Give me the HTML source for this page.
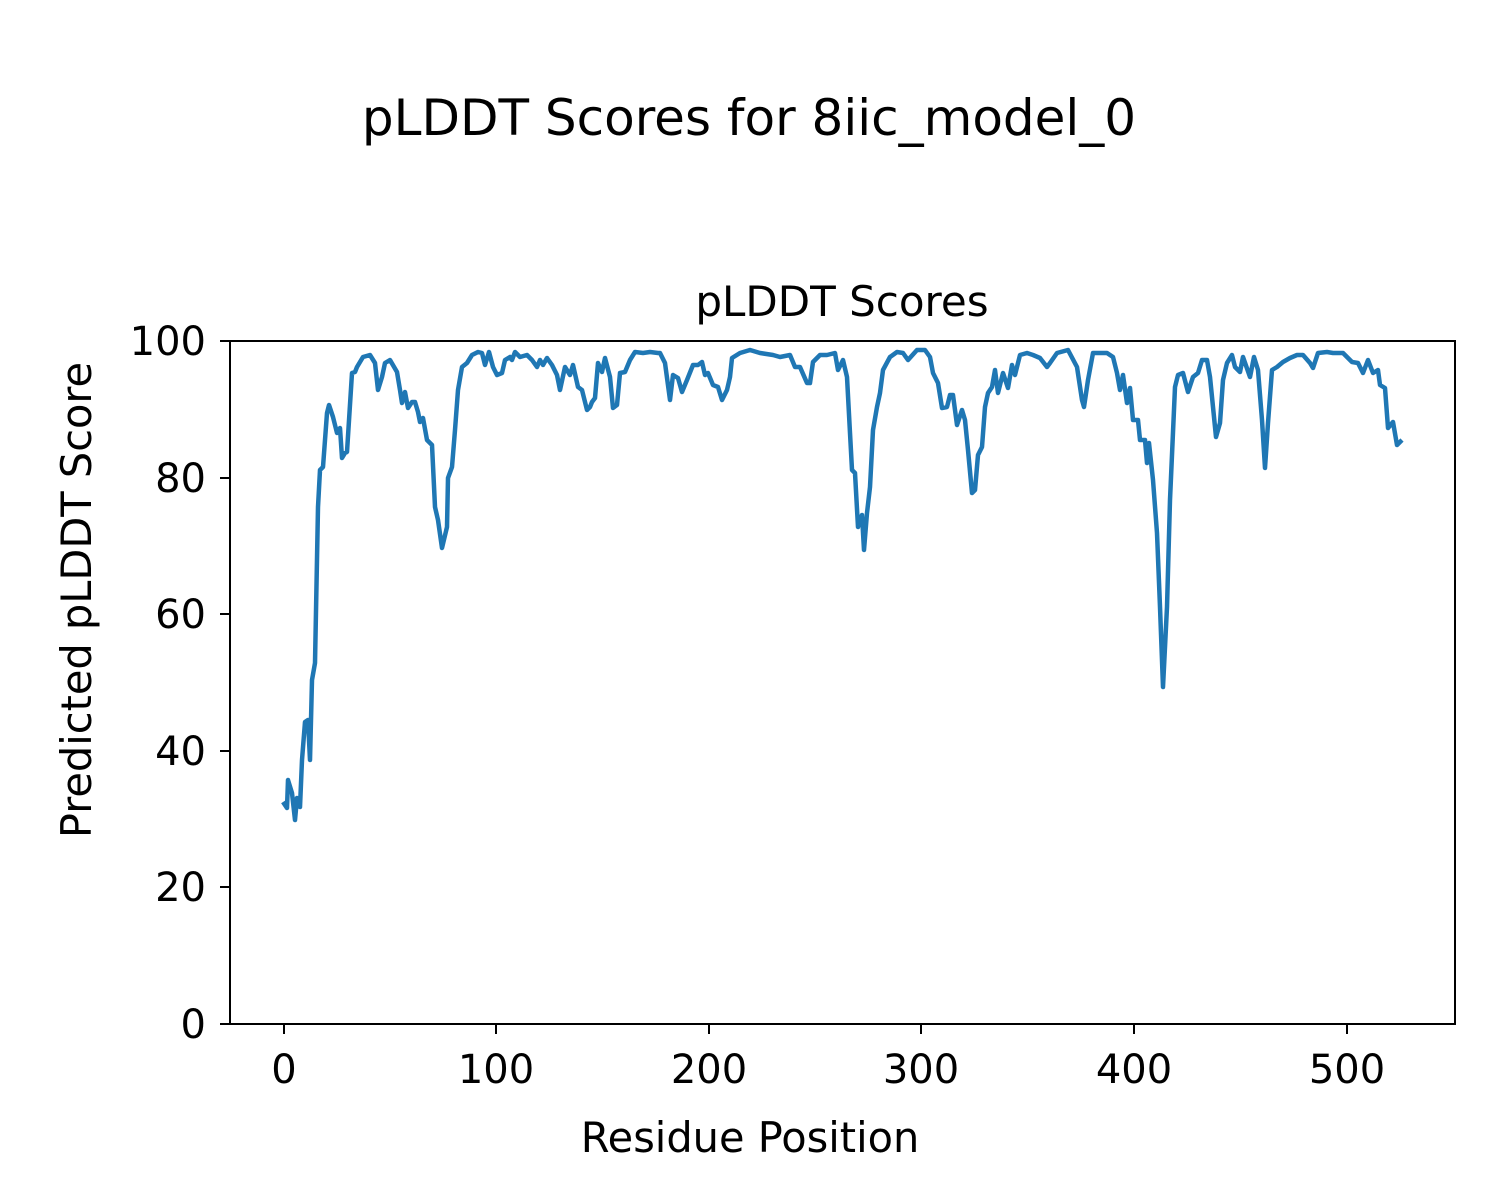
<!DOCTYPE html>
<html><head><meta charset="utf-8"><style>body{margin:0;background:#fff}svg{display:block}</style></head><body>
<svg width="1500" height="1200" xmlns="http://www.w3.org/2000/svg" font-family="DejaVu Sans, Liberation Sans, sans-serif">
<rect width="1500" height="1200" fill="#fff"/>
<text x="749" y="135" font-size="50" text-anchor="middle">pLDDT Scores for 8iic_model_0</text>
<text x="842" y="316" font-size="42" text-anchor="middle">pLDDT Scores</text>
<polyline fill="none" stroke="#1f77b4" stroke-width="4.5" stroke-linejoin="round" points="283,802 287,808 288,780 292,793 295,820 297,798 300,807 302,760 305,722 308,720 310,760 312,680 315,663 318,507 320,470 323,467 327,413 329,405 333,417 337,433 340,428 342,458 345,453 347,452 352,373 355,372 357,367 363,357 370,355 375,363 378,390 382,377 385,363 390,360 397,372 400,390 402,403 405,392 408,408 412,402 415,402 418,412 420,422 423,418 427,440 432,445 435,507 438,520 442,548 447,527 448,478 452,467 455,430 458,390 462,367 467,363 472,355 478,352 482,353 485,365 489,352 493,367 497,375 502,373 505,360 510,357 512,360 515,352 520,357 527,355 532,360 537,367 540,360 543,365 547,358 552,365 557,375 560,390 565,367 570,375 573,365 578,387 582,390 587,410 590,407 592,402 595,398 598,363 602,372 605,358 610,377 613,408 617,405 620,373 625,372 630,360 635,352 643,353 650,352 658,353 660,353 665,363 670,400 673,375 678,378 682,392 687,380 693,365 698,365 702,362 705,375 708,373 713,385 718,387 722,400 727,390 730,377 732,358 740,353 750,350 760,353 773,355 780,357 790,355 795,367 800,367 807,383 810,383 813,362 820,355 827,355 835,353 838,370 843,360 847,377 850,433 852,470 855,473 858,527 862,515 864,550 867,513 870,487 873,430 877,407 880,393 883,370 890,357 897,352 903,353 908,360 917,350 925,350 930,357 933,373 938,383 942,408 947,407 950,395 953,395 957,425 962,410 965,420 968,450 972,493 975,490 978,455 982,447 985,407 988,393 992,387 995,370 998,393 1003,373 1008,388 1012,365 1015,375 1020,355 1027,353 1033,355 1040,358 1047,367 1050,363 1057,353 1068,350 1077,367 1082,400 1084,407 1088,380 1093,353 1100,353 1107,353 1113,357 1117,373 1120,390 1123,375 1127,403 1130,388 1133,420 1138,420 1140,440 1145,440 1147,463 1149,443 1153,480 1157,533 1160,607 1163,687 1167,607 1170,500 1175,387 1178,375 1183,373 1188,392 1193,377 1198,373 1202,360 1207,360 1210,377 1213,407 1216,437 1220,423 1223,380 1227,363 1232,355 1235,367 1240,372 1243,357 1250,377 1254,357 1258,370 1262,420 1265,468 1268,423 1272,370 1277,367 1283,362 1290,358 1297,355 1303,355 1310,363 1313,368 1318,353 1327,352 1333,353 1343,353 1352,362 1358,363 1363,373 1368,360 1373,373 1378,370 1380,385 1385,388 1388,428 1393,422 1397,445 1402,440"/>
<rect x="230" y="341" width="1225" height="683" fill="none" stroke="#000" stroke-width="2"/>
<g stroke="#000" stroke-width="2">
<line x1="284" y1="1024" x2="284" y2="1034"/><line x1="496" y1="1024" x2="496" y2="1034"/><line x1="709" y1="1024" x2="709" y2="1034"/><line x1="921" y1="1024" x2="921" y2="1034"/><line x1="1134" y1="1024" x2="1134" y2="1034"/><line x1="1347" y1="1024" x2="1347" y2="1034"/>
<line x1="220" y1="1024" x2="230" y2="1024"/><line x1="220" y1="887" x2="230" y2="887"/><line x1="220" y1="751" x2="230" y2="751"/><line x1="220" y1="614" x2="230" y2="614"/><line x1="220" y1="478" x2="230" y2="478"/><line x1="220" y1="341" x2="230" y2="341"/>
</g>
<g font-size="40" text-anchor="middle">
<text x="284" y="1083">0</text><text x="496" y="1083">100</text><text x="709" y="1083">200</text><text x="921" y="1083">300</text><text x="1134" y="1083">400</text><text x="1347" y="1083">500</text>
</g>
<g font-size="40" text-anchor="end">
<text x="206" y="1038">0</text><text x="206" y="901">20</text><text x="206" y="765">40</text><text x="206" y="628">60</text><text x="206" y="492">80</text><text x="206" y="355">100</text>
</g>
<text x="750" y="1152" font-size="41.5" text-anchor="middle">Residue Position</text>
<text transform="translate(91,600) rotate(-90)" font-size="41.5" text-anchor="middle">Predicted pLDDT Score</text>
</svg>
</body></html>
